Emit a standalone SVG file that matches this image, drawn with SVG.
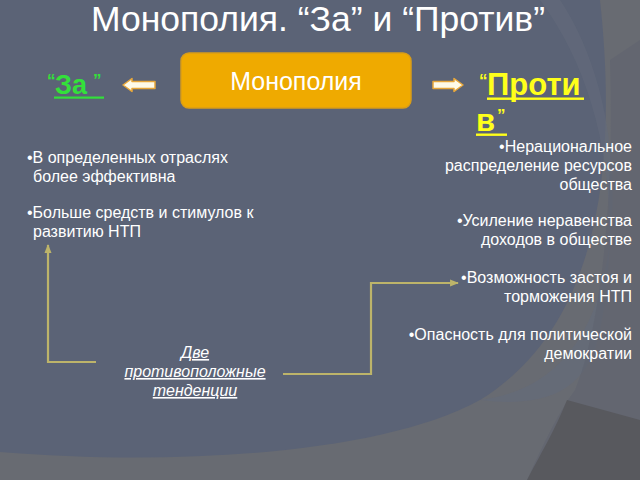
<svg xmlns="http://www.w3.org/2000/svg" width="640" height="480" viewBox="0 0 640 480">
<defs>
<style>
.t{font-family:"Liberation Sans",Arial,sans-serif;fill:#ffffff}
.b{font-size:16px}
.c{font-size:16px;font-style:italic;text-decoration:underline}
.conn{fill:none;stroke:#bdb46a;stroke-width:2.2}
.arr{fill:#fffbe8;stroke:#e8a73a;stroke-width:1.5;stroke-linejoin:round}
.lbl{font-family:"Liberation Sans",Arial,sans-serif;font-weight:bold}
</style>
<marker id="ah" viewBox="0 0 10 10" refX="9" refY="5" markerWidth="4" markerHeight="4" orient="auto"><path d="M0,1 L10,5 L0,9 Z" fill="#bdb46a"/></marker>
</defs>
<rect width="640" height="480" fill="#686b72"/>
<path d="M0,0 L600,0 C615,140 610,320 480,400 C380,455 170,466 0,452 Z" fill="#5b6376"/>
<path d="M540,0 C600,80 625,200 600,330 C590,380 560,410 480,400 C560,390 600,330 610,240 C620,150 600,60 560,0 Z" fill="#646a7c" opacity="0.6"/>
<path d="M640,40 L640,480 L527,480 C545,440 560,410 575,390 C600,330 615,200 610,60 Z" fill="#5f6270" opacity="0.55"/>
<path d="M640,420 L640,480 L527,480 C540,455 555,430 567,400 Z" fill="#58595e"/>

<text class="t" x="318" y="31" font-size="35.5" text-anchor="middle">Монополия. “За” и “Против”</text>

<g id="monopoly">
<rect x="181" y="53" width="230" height="55" rx="8" fill="#efaa00" stroke="#d99d18" stroke-width="1.5"/>
<text class="t" x="296" y="90" font-size="25" text-anchor="middle">Монополия</text>
</g>

<g id="za" fill="#33e03a">
<text class="lbl" x="47" y="86" font-size="17">“</text>
<text class="lbl" x="55" y="94" font-size="27">За</text>
<text class="lbl" x="93" y="86" font-size="17">”</text>
<rect x="54" y="96.5" width="50" height="2.2"/>
</g>

<g id="protiv" fill="#ffff1a">
<text class="lbl" x="479" y="86" font-size="17">“</text>
<text class="lbl" x="487" y="95" font-size="31">Проти</text>
<text class="lbl" x="476" y="131" font-size="31">в</text>
<text class="lbl" x="497" y="121" font-size="17">”</text>
<rect x="487" y="97.5" width="97" height="2.4"/>
<rect x="476" y="133.5" width="31" height="2.4"/>
</g>

<g id="left-arrow"><path class="arr" d="M123,85 L132,78.5 L132,81.5 L155,81.5 L155,88.5 L132,88.5 L132,91.5 Z"/></g>
<g id="right-arrow"><path class="arr" d="M463,85 L454,78.5 L454,81.5 L433,81.5 L433,88.5 L454,88.5 L454,91.5 Z"/></g>

<g id="pros" class="t b">
<text x="27" y="163">•В определенных отраслях</text>
<text x="33" y="182">более эффективна</text>
<text x="27" y="218">•Больше средств и стимулов к</text>
<text x="33" y="237">развитию НТП</text>
</g>

<g id="cons" class="t b" text-anchor="end">
<text x="632" y="152">•Нерациональное</text>
<text x="632" y="171">распределение ресурсов</text>
<text x="632" y="190">общества</text>
<text x="632" y="226">•Усиление неравенства</text>
<text x="632" y="245">доходов в обществе</text>
<text x="632" y="283">•Возможность застоя и</text>
<text x="632" y="302">торможения НТП</text>
<text x="632" y="340">•Опасность для политической</text>
<text x="632" y="359">демократии</text>
</g>

<g id="tendencies" class="t c" text-anchor="middle">
<text x="195" y="358">Две</text>
<text x="195" y="377">противоположные</text>
<text x="195" y="396">тенденции</text>
</g>

<g id="connectors">
<path class="conn" d="M96,362 L48,362 L48,245" marker-end="url(#ah)"/>
<path class="conn" d="M283,374 L371,374 L371,283 L458,283" marker-end="url(#ah)"/>
</g>
</svg>
